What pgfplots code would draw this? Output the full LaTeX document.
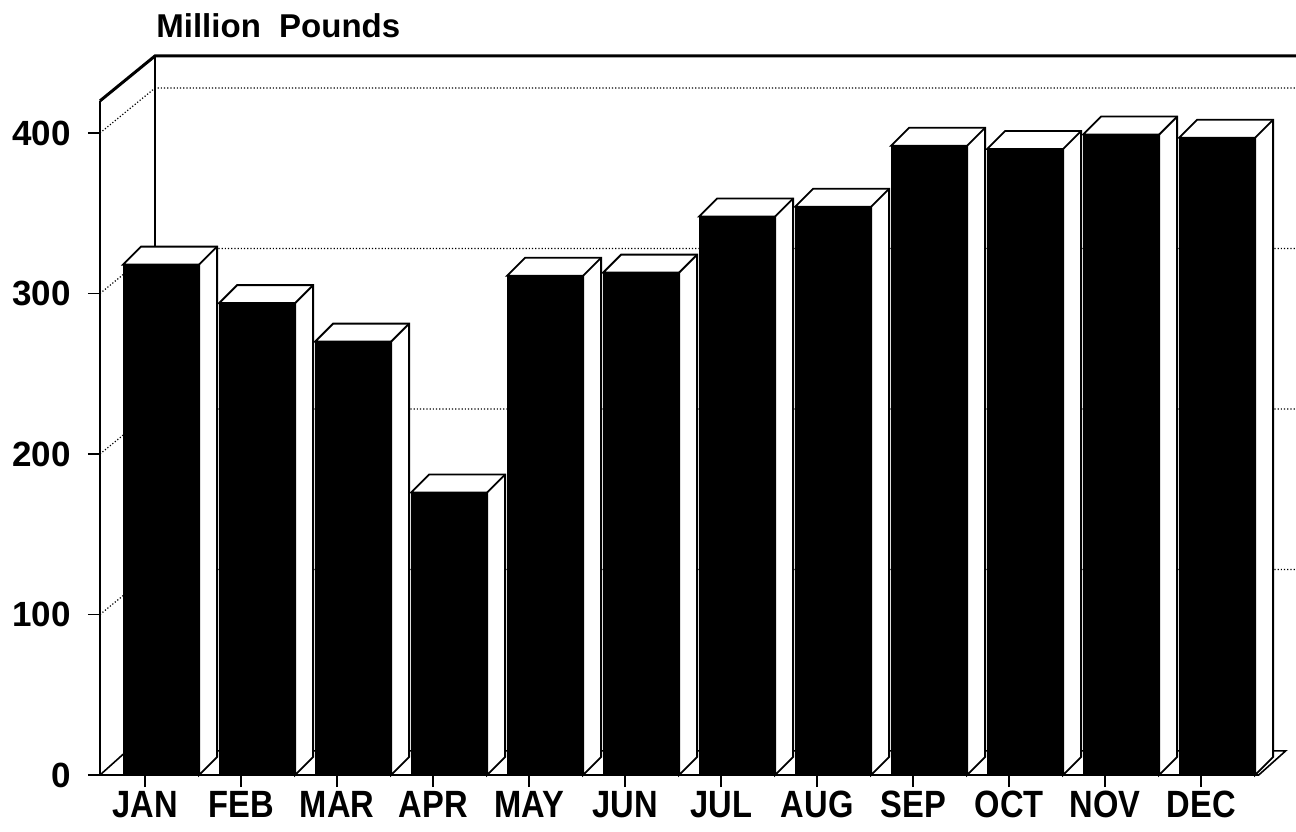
\documentclass[border=0pt]{standalone}
\usepackage{pgfplots}
\pgfplotsset{compat=1.18}
\usepackage{pgfplotstable}
\usepackage{fontspec}
\setmainfont{Liberation Sans}
\newfontfamily\condfont[FakeStretch=0.86]{Liberation Sans}

\pgfplotstableread{
x v
0 318
1 294
2 270
3 176
4 311
5 313
6 348
7 354
8 392
9 390
10 399
11 397
}\data

% top and side faces of a 3D bar, drawn at the data point
\pgfdeclareplotmark{box3d}{%
  \pgfmathsetlengthmacro\h{\val*0.8025}%
  \pgfsetlinewidth{0.9pt}%
  \pgfsetfillcolor{white}\pgfsetstrokecolor{black}%
  \pgfpathmoveto{\pgfqpoint{-11pt}{0pt}}%
  \pgfpathlineto{\pgfqpoint{-2pt}{9pt}}%
  \pgfpathlineto{\pgfqpoint{36pt}{9pt}}%
  \pgfpathlineto{\pgfpoint{36pt}{9pt-\h}}%
  \pgfpathlineto{\pgfpoint{27pt}{-\h}}%
  \pgfpathlineto{\pgfqpoint{27pt}{0pt}}%
  \pgfpathclose
  \pgfusepath{fill,stroke}%
  \pgfpathmoveto{\pgfqpoint{27pt}{0pt}}%
  \pgfpathlineto{\pgfqpoint{36pt}{9pt}}%
  \pgfusepath{stroke}%
}

\pgfplotsset{common/.style={
  at={(50pt,28pt)}, anchor=south west,
  x=48pt, y=0.8025pt,
  xmin=-0.47, xmax=11.6, ymin=0, ymax=420,
  clip=false,
}}

\begin{document}
\begin{tikzpicture}
\useasboundingbox (0,0) rectangle (648pt,415.5pt);
% background: walls, floor, dotted grid
\begin{axis}[common, hide axis]
  \draw[line width=1.5pt] (axis cs:-0.47,420) -- (axis cs:0.103,448) -- (axis cs:12.2,448);
  \draw[line width=0.8pt] (axis cs:0.103,448) -- (axis cs:0.103,28);
  \draw[densely dotted, line width=0.6pt] (axis cs:-0.47,100) -- (axis cs:0.103,128) -- (axis cs:12.2,128);
  \draw[densely dotted, line width=0.6pt] (axis cs:-0.47,200) -- (axis cs:0.103,228) -- (axis cs:12.2,228);
  \draw[densely dotted, line width=0.6pt] (axis cs:-0.47,300) -- (axis cs:0.103,328) -- (axis cs:12.2,328);
  \draw[densely dotted, line width=0.6pt] (axis cs:-0.47,400) -- (axis cs:0.103,428) -- (axis cs:12.2,428);
  \draw[line width=0.8pt] (axis cs:-0.47,0) -- (axis cs:-0.19,15) -- (axis cs:11.88,15) -- (axis cs:11.6,0);
\end{axis}
\begin{axis}[
  common,
  axis x line*=bottom, axis y line*=left,
  axis line style={line width=1pt, -},
  xtick={0,...,11},
  xticklabels={JAN,FEB,MAR,APR,MAY,JUN,JUL,AUG,SEP,OCT,NOV,DEC},
  ytick={0,100,...,400},
  tick align=outside, major tick length=6pt,
  tick style={line width=0.8pt, black},
  xticklabel style={font=\fontsize{19}{19}\selectfont\condfont\bfseries, yshift=-1pt, inner sep=1pt},
  yticklabel style={font=\fontsize{17.5}{17.5}\selectfont\bfseries, xshift=-5pt},
  /pgf/number format/assume math mode=true,
]
\addplot[only marks, mark=box3d, visualization depends on={\thisrow{v} \as \val}]
  table[x=x, y=v] {\data};
\addplot[ybar, bar width=38pt, bar shift=8pt, fill=black, draw=black, line width=0.6pt]
  table[x=x, y=v] {\data};
\end{axis}
\node[anchor=base west, font=\fontsize{16.5}{16.5}\selectfont\bfseries, inner sep=0pt]
  at (78pt,396.5pt) {Million\ \ Pounds};
\end{tikzpicture}
\end{document}
